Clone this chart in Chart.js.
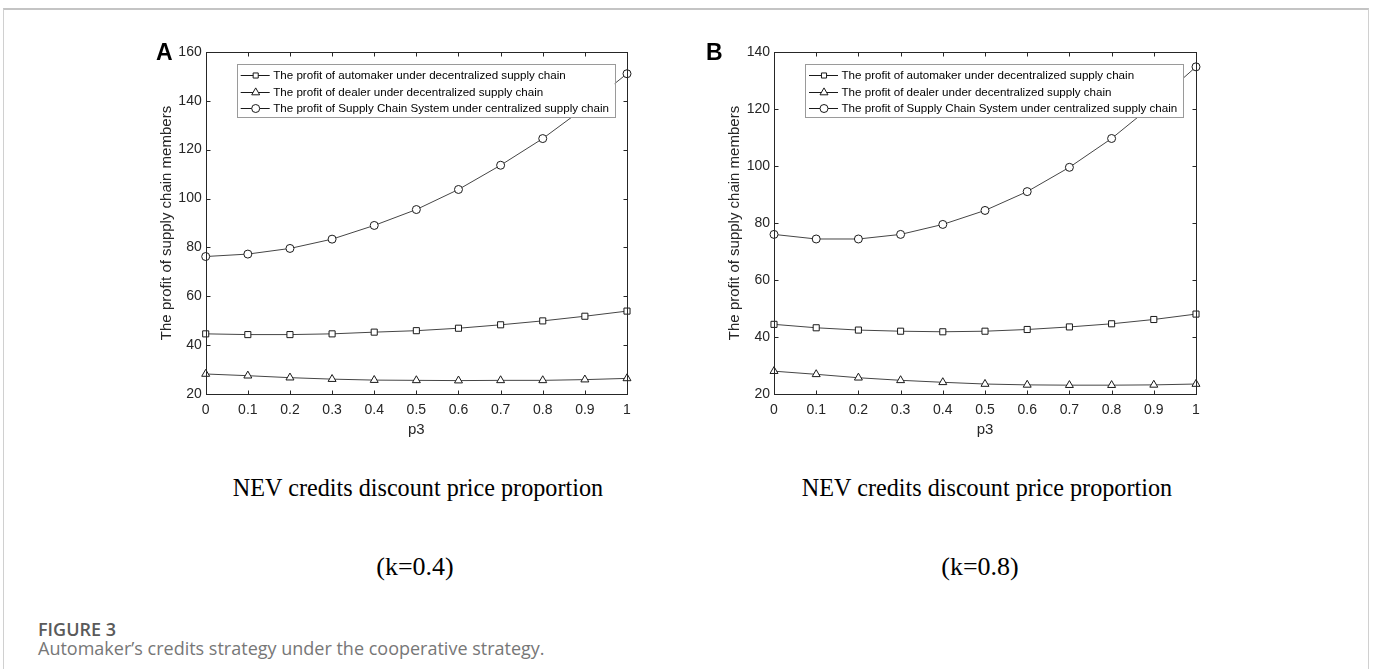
<!DOCTYPE html>
<html>
<head>
<meta charset="utf-8">
<script src="https://cdn.jsdelivr.net/npm/chart.js@4.4.0/dist/chart.umd.min.js"></script>
<style>
  html, body { margin: 0; padding: 0; background: #fff; }
  body { width: 1373px; height: 669px; position: relative; overflow: hidden; }
  .frame { position: absolute; left: 3px; top: 8px; width: 1364px; height: 660px;
           border: 1px solid #d0d0d0; border-top: 2px solid #c4c4c4; border-bottom: none; }
  canvas { position: absolute; }
  .panel { position: absolute; font: bold 23px "Liberation Sans", Arial, sans-serif; line-height: 1; color: #000; }
  .cap { position: absolute; width: 600px; text-align: center; line-height: 1; color: #000;
         font: 26px "Liberation Serif", "Times New Roman", serif; }
  .narrow { transform: scaleX(0.93); }
  .fig { position: absolute; left: 38px; font: 600 18px "Open Sans", sans-serif; line-height: 1; color: #5a5a5a; }
  .desc { position: absolute; left: 38px; font: 18px "Open Sans", sans-serif; line-height: 1; color: #777; }
</style>
</head>
<body>
<div class="frame"></div>
<canvas id="chartA" width="520" height="440" style="left:130px; top:20px;"></canvas>
<canvas id="chartB" width="520" height="440" style="left:700px; top:20px;"></canvas>
<div class="panel" style="left:156px; top:41px;">A</div>
<div class="panel" style="left:706px; top:41px;">B</div>
<div class="cap narrow" style="left:118px; top:473px;">NEV credits discount price proportion</div>
<div class="cap" style="left:115px; top:552px;">(k=0.4)</div>
<div class="cap narrow" style="left:687px; top:473px;">NEV credits discount price proportion</div>
<div class="cap" style="left:680px; top:552px;">(k=0.8)</div>
<div class="fig" style="top:620px;">FIGURE 3</div>
<div class="desc" style="top:639px;">Automaker’s credits strategy under the cooperative strategy.</div>

<script>
// x categories (p3)
const p3Labels = ['0', '0.1', '0.2', '0.3', '0.4', '0.5', '0.6', '0.7', '0.8', '0.9', '1'];

const seriesNames = [
  'The profit of automaker under decentralized supply chain',
  'The profit of dealer under decentralized supply chain',
  'The profit of Supply Chain System under centralized supply chain'
];

// panel A, k = 0.4
const automakerA = [44.7, 44.4, 44.4, 44.7, 45.4, 46.0, 47.0, 48.4, 50.0, 51.9, 54.0];
const dealerA    = [28.3, 27.6, 26.8, 26.2, 25.8, 25.7, 25.6, 25.7, 25.7, 26.0, 26.5];
const systemA    = [76.3, 77.3, 79.6, 83.4, 89.0, 95.5, 103.7, 113.6, 124.5, 137.2, 151.0];

// panel B, k = 0.8
const automakerB = [44.5, 43.3, 42.5, 42.1, 41.9, 42.1, 42.7, 43.6, 44.7, 46.2, 48.1];
const dealerB    = [28.1, 27.0, 25.8, 24.9, 24.2, 23.6, 23.3, 23.2, 23.2, 23.3, 23.6];
const systemB    = [76.0, 74.4, 74.4, 76.0, 79.5, 84.4, 91.0, 99.5, 109.6, 121.6, 134.7];

const yRangeA = [20, 160];
const yRangeB = [20, 140];

Chart.defaults.font.family = '"Liberation Sans", Arial, sans-serif';
Chart.defaults.color = '#262626';

function drawMarker(ctx, style, x, y, r) {
  ctx.beginPath();
  if (style === 'rect') {
    const s = r * Math.SQRT1_2;
    ctx.rect(x - s, y - s, 2 * s, 2 * s);
  } else if (style === 'triangle') {
    ctx.moveTo(x, y - r);
    ctx.lineTo(x + r * 0.866, y + r * 0.5);
    ctx.lineTo(x - r * 0.866, y + r * 0.5);
    ctx.closePath();
  } else {
    ctx.arc(x, y, r, 0, Math.PI * 2);
  }
  ctx.fill();
  ctx.stroke();
}

// matlab-like box with inward ticks and a legend inside the axes
const matlabAxes = {
  id: 'matlabAxes',
  afterDraw(chart, args, opts) {
    const { ctx, chartArea: a, scales } = chart;
    ctx.save();

    // legend
    const lx = a.left + opts.legend.left, ly = a.top + opts.legend.top;
    ctx.fillStyle = '#fff';
    ctx.fillRect(lx, ly, opts.legend.width, opts.legend.height);
    ctx.strokeStyle = '#9a9a9a';
    ctx.lineWidth = 1;
    ctx.strokeRect(Math.round(lx) + 0.5, Math.round(ly) + 0.5, Math.round(opts.legend.width), Math.round(opts.legend.height));
    ctx.font = '11.6px "Liberation Sans", Arial, sans-serif';
    ctx.textBaseline = 'middle';
    chart.data.datasets.forEach((ds, i) => {
      const ry = Math.round(ly + 10.7 + i * 16.7) + 0.5;
      ctx.strokeStyle = '#1a1a1a';
      ctx.beginPath();
      ctx.moveTo(lx + 4, ry);
      ctx.lineTo(lx + 33, ry);
      ctx.stroke();
      ctx.fillStyle = '#fff';
      drawMarker(ctx, ds.pointStyle, lx + 19, ry, ds.pointStyle === 'rect' ? 3.6 : ds.pointRadius);
      ctx.fillStyle = '#000';
      ctx.fillText(ds.label, lx + 36.5, ry);
    });

    // box
    ctx.strokeStyle = '#262626';
    ctx.lineWidth = 1;
    const L = Math.round(a.left) + 0.5, R = Math.round(a.right) + 0.5;
    const T = Math.round(a.top) + 0.5, B = Math.round(a.bottom) + 0.5;
    ctx.strokeRect(L, T, R - L, B - T);
    ctx.beginPath();
    scales.x.ticks.forEach((t, i) => {
      const px = Math.round(scales.x.getPixelForTick(i)) + 0.5;
      ctx.moveTo(px, B); ctx.lineTo(px, B - 4);
      ctx.moveTo(px, T); ctx.lineTo(px, T + 4);
    });
    scales.y.ticks.forEach((t, i) => {
      const py = Math.round(scales.y.getPixelForTick(i)) + 0.5;
      ctx.moveTo(L, py); ctx.lineTo(L + 4, py);
      ctx.moveTo(R, py); ctx.lineTo(R - 4, py);
    });
    ctx.stroke();
    ctx.restore();
  }
};

function makeChart(id, values, yRange, yWidth, yTitlePad, padRight) {
  const styles = ['rect', 'triangle', 'circle'];
  const radii = [4.3, 4.6, 4];
  return new Chart(document.getElementById(id), {
    type: 'line',
    data: {
      labels: p3Labels,
      datasets: values.map((v, i) => ({
        label: seriesNames[i],
        data: v,
        borderColor: '#454545',
        borderWidth: 1,
        pointStyle: styles[i],
        pointRadius: radii[i],
        pointBorderColor: '#1a1a1a',
        pointBackgroundColor: '#fff',
        pointBorderWidth: 1,
        tension: 0,
        clip: false
      }))
    },
    options: {
      responsive: false,
      animation: false,
      layout: { padding: { top: 31.7, right: padRight, left: 0, bottom: 0 } },
      plugins: {
        legend: { display: false },
        tooltip: { enabled: false },
        matlabAxes: { legend: { left: 31, top: 12.6, width: 378, height: 53.4 } }
      },
      scales: {
        x: {
          type: 'category',
          offset: false,
          grid: { display: false, drawTicks: false },
          border: { display: false },
          ticks: { font: { size: 14 }, padding: 7, autoSkip: false, maxRotation: 0 },
          title: { display: true, text: 'p3', font: { size: 15 }, padding: { top: 21, bottom: 21 } },
          afterFit(scale) { scale.height = 65.7; }
        },
        y: {
          min: yRange[0],
          max: yRange[1],
          grid: { display: false, drawTicks: false },
          border: { display: false },
          ticks: { stepSize: 20, font: { size: 14 }, padding: 4 },
          title: { display: true, text: 'The profit of supply chain members', font: { size: 15 },
                   padding: { top: yTitlePad, bottom: yTitlePad } },
          afterFit(scale) { scale.width = yWidth; }
        }
      }
    },
    plugins: [matlabAxes]
  });
}

makeChart('chartA', [automakerA, dealerA, systemA], yRangeA, 75.7, 28, 23);
makeChart('chartB', [automakerB, dealerB, systemB], yRangeB, 74, 26, 24);
</script>
</body>
</html>
